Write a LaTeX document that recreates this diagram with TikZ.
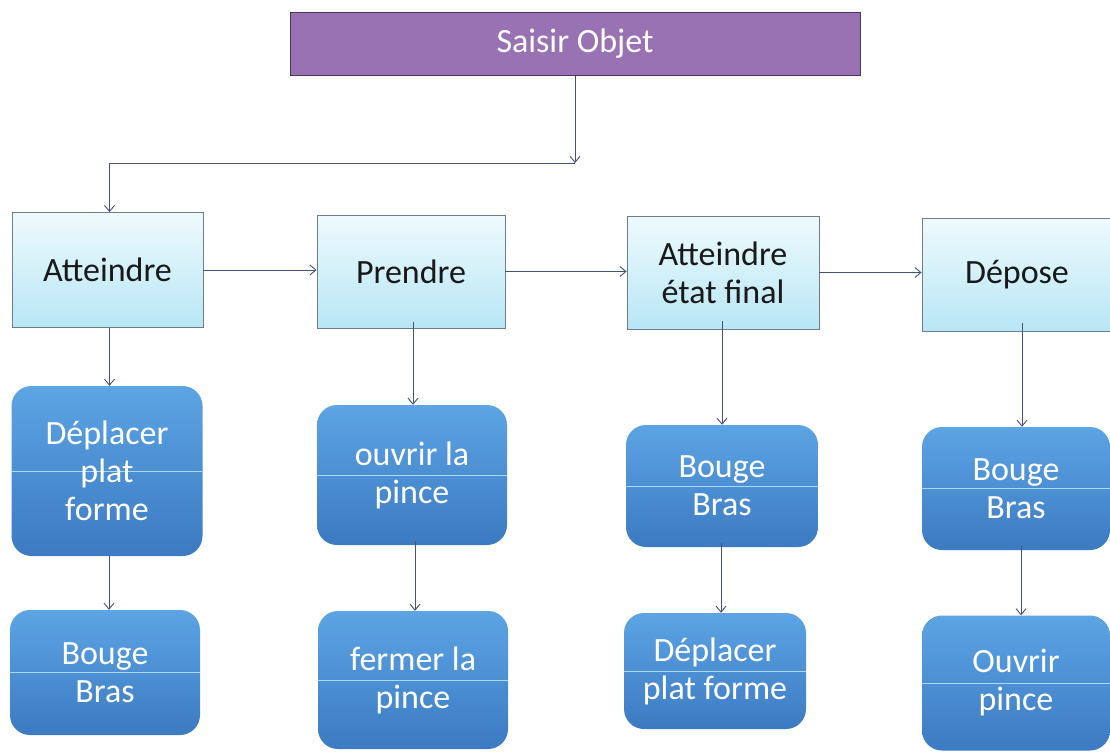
\documentclass[tikz,border=0pt]{standalone}
\usepackage{fontspec}
\setmainfont{Carlito}
\usetikzlibrary{arrows.meta}

\definecolor{headfill}{RGB}{152,114,178}
\definecolor{headline}{RGB}{70,55,85}
\definecolor{stepTop}{RGB}{238,250,253}
\definecolor{stepBot}{RGB}{184,230,245}
\definecolor{stepLine}{RGB}{110,125,140}
\definecolor{actTop}{RGB}{92,164,228}
\definecolor{actBot}{RGB}{60,122,194}
\definecolor{actGloss}{RGB}{170,220,250}
\definecolor{wire}{RGB}{68,82,115}

\tikzset{
  txt/.style={font=\fontsize{34}{38}\selectfont},
  head/.style={txt, draw=headline, line width=1pt, fill=headfill, text=white,
    minimum width=570pt, minimum height=63pt, inner sep=0pt},
  stepbox/.style={txt, draw=stepLine, line width=0.8pt, top color=stepTop, bottom color=stepBot,
    text=black!90, align=center, inner sep=0pt},
  actbox/.style={txt, rounded corners=20pt, top color=actTop, bottom color=actBot,
    text=white, align=center, inner sep=0pt,
    path picture={\draw[actGloss, line width=0.8pt]
      (path picture bounding box.west) -- (path picture bounding box.east);}},
  arr/.style={draw=wire, line width=0.9pt, -{Straight Barb[length=6pt,width=10pt]}}
}

\begin{document}
\begin{tikzpicture}[x=1pt,y=-1pt]
  \useasboundingbox[fill=white] (0,0) rectangle (1110,753);

  % root task
  \node[head] (root) at (575,44) {Saisir Objet};
  \coordinate (split) at (575,163);

  % main phases
  \node[stepbox, minimum width=191pt, minimum height=115pt] (a) at (107.5,270) {Atteindre};
  \node[stepbox, minimum width=188pt, minimum height=113pt] (p) at (411,271.5) {Prendre};
  \node[stepbox, minimum width=192pt, minimum height=113pt] (f) at (723,272.5) {Atteindre\\état final};
  \node[stepbox, minimum width=190pt, minimum height=113pt] (d) at (1017,274.5) {Dépose};

  % sub-actions
  \node[actbox, minimum width=191pt, minimum height=170pt] (a1) at (107,471) {Déplacer\\plat\\forme};
  \node[actbox, minimum width=190pt, minimum height=125pt] (a2) at (105,672.5) {Bouge\\Bras};
  \node[actbox, minimum width=190pt, minimum height=140pt] (p1) at (412,475) {ouvrir la\\pince};
  \node[actbox, minimum width=190pt, minimum height=138pt] (p2) at (413,680) {fermer la\\pince};
  \node[actbox, minimum width=192pt, minimum height=122pt] (f1) at (722,486) {Bouge\\Bras};
  \node[actbox, minimum width=182pt, minimum height=116pt] (f2) at (715,671) {Déplacer\\plat forme};
  \node[actbox, minimum width=188pt, minimum height=123pt] (d1) at (1016,488.5) {Bouge\\Bras};
  \node[actbox, minimum width=188pt, minimum height=135pt] (d2) at (1016,683) {Ouvrir\\pince};

  % root to first phase
  \draw[arr] (root.south) -- (split);
  \draw[arr] (split) -| ([xshift=2pt]a.north);

  % phase sequence
  \draw[arr] (a.east) -- (a.east -| p.west);
  \draw[arr] (p.east) -- (p.east -| f.west);
  \draw[arr] (f.east) -- (f.east -| d.west);

  % decomposition of each phase
  \draw[arr] ([xshift=2pt]a.south) -- ([xshift=2pt]a.south |- a1.north);
  \draw[arr] ([xshift=2pt]a1.south) -- ([xshift=2pt]a1.south |- a2.north);
  \draw[arr] ([xshift=2pt,yshift=6pt]p.south) -- ([xshift=2pt]p.south |- p1.north);
  \draw[arr] ([xshift=3pt,yshift=4pt]p1.south) -- ([xshift=3pt]p1.south |- p2.north);
  \draw[arr] ([xshift=-1pt,yshift=8pt]f.south) -- ([xshift=-1pt]f.south |- f1.north);
  \draw[arr] ([xshift=-1pt,yshift=4pt]f1.south) -- ([xshift=-1pt]f1.south |- f2.north);
  \draw[arr] ([xshift=5pt,yshift=8pt]d.south) -- ([xshift=5pt]d.south |- d1.north);
  \draw[arr] ([xshift=5pt,yshift=4pt]d1.south) -- ([xshift=5pt]d1.south |- d2.north);
\end{tikzpicture}
\end{document}
